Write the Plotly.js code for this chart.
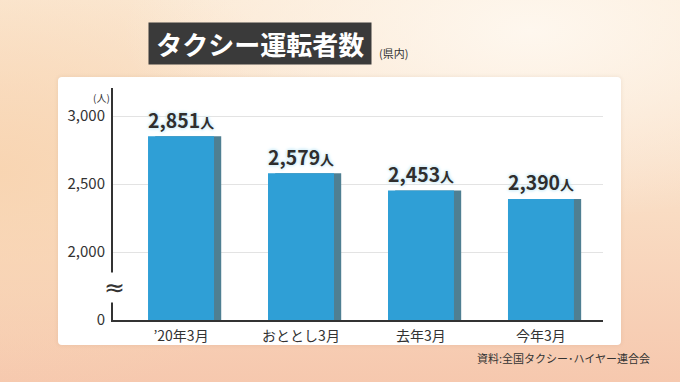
<!DOCTYPE html>
<html>
<head>
<meta charset="utf-8">
<script src="https://cdn.plot.ly/plotly-3.0.1.min.js"></script>
<style>
  html, body { margin: 0; padding: 0; }
  body {
    width: 680px; height: 382px; position: relative; overflow: hidden;
    background:
      radial-gradient(ellipse 60% 50% at 78% 8%, rgba(254,247,238,1) 0%, rgba(254,247,238,0) 100%),
      radial-gradient(ellipse 50% 60% at 0% 45%, rgba(248,212,176,0.9) 0%, rgba(248,212,176,0) 100%),
      linear-gradient(180deg, #fbe9d4 0%, #f9dcc3 55%, #f6c8ae 100%);
  }
  #panel {
    position: absolute; left: 58px; top: 77px; width: 563px; height: 268px;
    background: #ffffff; border-radius: 4px; box-shadow: 0 0 4px rgba(120,80,50,0.12);
  }
  #chart { position: absolute; left: 0; top: 0; width: 680px; height: 382px; }
</style>
</head>
<body>
<div id="panel"></div>
<div id="chart"></div>
<script>
// ---- data ----
const categories = ["’20年3月", "おととし3月", "去年3月", "今年3月"];
const drivers = [2851, 2579, 2453, 2390];
const tickValues = [1500, 2000, 2500, 3000];
const tickLabels = ["0", "2,000", "2,500", "3,000"];
const unitLabel = "人";
const titleText = "タクシー運転者数";
const subtitleText = "(県内)";
const axisUnitText = "(人)";
const sourceText = "資料:全国タクシー･ハイヤー連合会";

// ---- layout helpers ----
const W = 680, H = 382, L = 113, R = 603, T = 88, B = 320;
const px = x => (x - L) / (R - L);
const py = y => (B - y) / (B - T);
const FONT = "Noto Sans CJK JP, Noto Sans, sans-serif";

const barW = 0.55;
const shadowShift = 0.06;

const shadow = {
  type: "bar", x: categories, y: drivers,
  width: barW, offset: -barW / 2 + shadowShift,
  marker: { color: "#4f7f92", line: { width: 0 } },
  hoverinfo: "skip", showlegend: false
};
const bars = {
  type: "bar", x: categories, y: drivers,
  width: barW, offset: -barW / 2,
  marker: { color: "#2f9fd6", line: { width: 0 } },
  texttemplate: "%{y:,}<span style='font-size:15px'>" + unitLabel + "</span>",
  textposition: "outside",
  cliponaxis: false,
  textfont: {
    family: FONT, size: 21, color: "#2e2e2e", weight: 700,
    shadow: "0 0 2px #ffffff, 0 0 3px #a9dcf0, 0 0 4px #c8ecf8"
  },
  showlegend: false
};

const layout = {
  width: W, height: H,
  margin: { l: L, r: W - R, t: T, b: H - B, pad: 0 },
  paper_bgcolor: "rgba(0,0,0,0)",
  plot_bgcolor: "rgba(0,0,0,0)",
  barmode: "overlay",
  showlegend: false,
  font: { family: FONT, color: "#333333" },
  xaxis: {
    type: "category",
    range: [-0.567, 3.517],
    showline: true, linecolor: "#333333", linewidth: 2,
    ticks: "", showgrid: false, zeroline: false,
    tickfont: { family: FONT, size: 14, color: "#333333" },
    ticklabelstandoff: 2
  },
  yaxis: {
    range: [1500, 3206],
    tickvals: tickValues, ticktext: tickLabels,
    showline: true, linecolor: "#333333", linewidth: 2,
    showgrid: true, gridcolor: "#e3e3e3", gridwidth: 1,
    zeroline: false, ticks: "",
    tickfont: { family: FONT, size: 15, color: "#333333" },
    ticklabelstandoff: 3
  },
  annotations: [
    {
      xref: "paper", yref: "paper", x: px(259.5), y: py(43),
      xanchor: "center", yanchor: "middle", showarrow: false,
      text: "\u2009" + titleText + "\u2009", bgcolor: "#3a3a3a", borderpad: 2,
      font: { family: FONT, size: 26, color: "#ffffff", weight: 700 }
    },
    {
      xref: "paper", yref: "paper", x: px(377), y: py(53),
      xanchor: "left", yanchor: "middle", showarrow: false,
      text: subtitleText,
      font: { family: FONT, size: 11, color: "#333333" }
    },
    {
      xref: "paper", yref: "paper", x: px(101), y: py(97),
      xanchor: "center", yanchor: "middle", showarrow: false,
      text: axisUnitText,
      font: { family: FONT, size: 10, color: "#333333" }
    },
    {
      xref: "paper", yref: "paper", x: px(114), y: py(287),
      xanchor: "center", yanchor: "middle", showarrow: false,
      text: "≈", bgcolor: "#ffffff", borderpad: 0,
      font: { family: "DejaVu Sans, sans-serif", size: 25, color: "#333333" }
    },
    {
      xref: "paper", yref: "paper", x: px(652), y: py(358),
      xanchor: "right", yanchor: "middle", showarrow: false,
      text: sourceText,
      font: { family: FONT, size: 11, color: "#333333" }
    }
  ]
};

Plotly.newPlot("chart", [shadow, bars], layout, { displayModeBar: false, staticPlot: true });
</script>
</body>
</html>
